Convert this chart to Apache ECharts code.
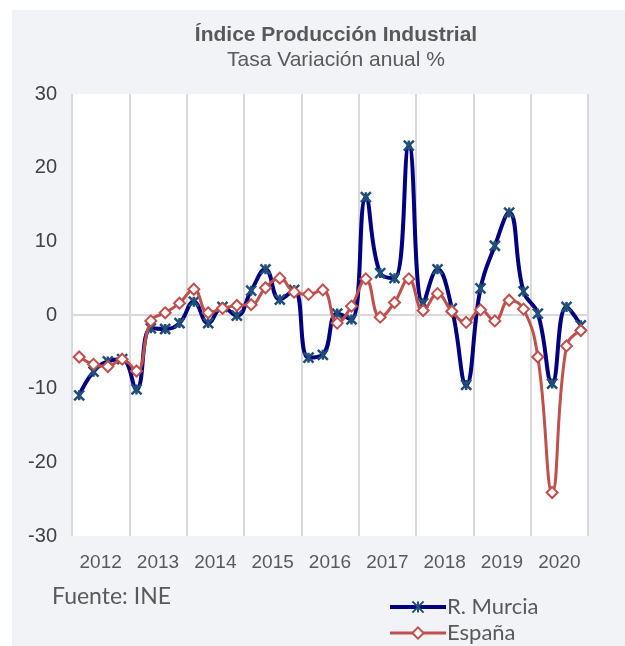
<!DOCTYPE html>
<html>
<head>
<meta charset="utf-8">
<script src="https://cdn.jsdelivr.net/npm/echarts@6/dist/echarts.min.js"></script>
<style>
html,body{margin:0;padding:0;background:#fff;}
#wrap{position:relative;width:625px;height:646px;background:#fff;overflow:hidden;}
#chart{position:absolute;left:12px;top:10px;width:613px;height:636px;background:#F2F3F7;}
</style>
</head>
<body>
<div id="wrap"><div id="chart"></div></div>
<script>
const years = ['2012','2013','2014','2015','2016','2017','2018','2019','2020'];
const quarters = ['T1','T2','T3','T4'];
const murcia = [-10.9,-7.7,-6.3,-6.0, -10.1,-1.8,-1.9,-1.1, 1.8,-1.1,1.1,-0.1, 3.3,6.2,2.1,3.4,
  -5.8,-5.4,0.2,-0.6, 16.0,5.7,5.0,23.0, 1.6,6.2,0.9,-9.5, 3.6,9.4,13.9,3.2, 0.2,-9.3,1.1,-1.4];
const espana = [-5.7,-6.7,-7.0,-6.0, -7.6,-0.8,0.3,1.6, 3.5,0.3,0.9,1.3, 1.4,3.7,5.0,3.1,
  2.8,3.4,-1.1,1.2, 4.9,-0.3,1.7,4.9, 0.6,2.9,0.5,-1.0, 0.7,-0.8,2.0,0.8, -5.7,-24.1,-4.2,-2.1];
const yTicks = [-30,-20,-10,0,10,20,30];

const quarterCats = [];
years.forEach(y => quarters.forEach(q => quarterCats.push(y + q)));

const starPath = 'path://M0,0 L10,10 M10,0 L0,10 M5,0 L5,10';

const chart = echarts.init(document.getElementById('chart'));
chart.setOption({
  animation: false,
  backgroundColor: 'transparent',
  title: [
    {text: 'Índice Producción Industrial', left: 324, top: 15, textAlign: 'center', padding: 0,
     textStyle: {fontFamily: 'Liberation Sans', fontWeight: 'bold', fontSize: 21, color: '#595959'}},
    {text: 'Tasa Variación anual %', left: 324, top: 40, textAlign: 'center', padding: 0,
     textStyle: {fontFamily: 'Liberation Sans', fontWeight: 'normal', fontSize: 21, color: '#595959'}}
  ],
  graphic: [
    {type: 'text', left: 40, top: 575, style: {text: 'Fuente: INE', font: '23px Lato', fill: '#595959'}}
  ],
  legend: {
    orient: 'vertical', left: 376, top: 586, height: 60, padding: 0, itemWidth: 56, itemHeight: 14, itemGap: 4,
    textStyle: {fontFamily: 'Lato', fontSize: 22, color: '#595959', padding: [0,0,0,-4]},
    data: [
      {name: 'R. Murcia', lineStyle: {width: 4}},
      {name: 'España', lineStyle: {width: 3}}
    ]
  },
  grid: {left: 60, right: 37, top: 84, bottom: 110, show: true, backgroundColor: '#ffffff', borderWidth: 0},
  xAxis: [
    {type: 'category', data: years, position: 'bottom', boundaryGap: true,
     axisLine: {show: false, onZero: false}, axisTick: {show: false},
     axisLabel: {fontFamily: 'Liberation Sans', fontSize: 19, color: '#595959', margin: 17},
     splitLine: {show: true, showMinLine: true, showMaxLine: true, lineStyle: {color: '#D9D9D9', width: 2}}},
    {type: 'category', data: quarterCats, position: 'top', boundaryGap: true,
     axisLine: {show: true, onZero: true, lineStyle: {color: '#D9D9D9', width: 2}},
     axisTick: {show: false}, axisLabel: {show: false}, splitLine: {show: false}}
  ],
  yAxis: {
    type: 'value', min: yTicks[0], max: yTicks[yTicks.length-1], interval: 10,
    axisLine: {show: false}, axisTick: {show: false}, splitLine: {show: false},
    axisLabel: {fontFamily: 'Liberation Sans', fontSize: 20, color: '#404040', margin: 15}
  },
  series: [
    {name: 'R. Murcia', type: 'line', xAxisIndex: 1, data: murcia, smooth: 0.45, z: 3,
     lineStyle: {color: '#000080', width: 4},
     symbol: starPath, symbolSize: 10, showSymbol: true, showAllSymbol: true,
     itemStyle: {color: 'rgba(0,0,0,0)', borderColor: '#1F4E79', borderWidth: 2.5}},
    {name: 'España', type: 'line', xAxisIndex: 1, data: espana, smooth: 0.45, z: 4,
     lineStyle: {color: '#C0504D', width: 3},
     symbol: 'diamond', symbolSize: 11, showSymbol: true, showAllSymbol: true,
     itemStyle: {color: '#ffffff', borderColor: '#C0504D', borderWidth: 2}}
  ]
});
</script>
</body>
</html>
